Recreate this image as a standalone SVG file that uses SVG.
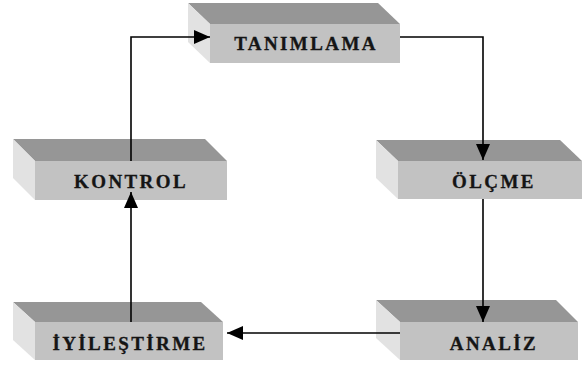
<svg xmlns="http://www.w3.org/2000/svg" width="582" height="367" viewBox="0 0 582 367">
  <defs>
    <style>
      .front { fill: #c2c2c2; }
      .top { fill: #969696; }
      .side { fill: #e2e2e2; }
      .label { font-family: "Liberation Serif", "Times New Roman", serif; font-weight: bold; font-size: 19px; letter-spacing: 2.4px; fill: #151515; stroke: #151515; stroke-width: 0.3; text-anchor: middle; }
      .wire { fill: none; stroke: #000; stroke-width: 1.6; }
    </style>
    <marker id="head" viewBox="0 0 16 14" refX="16" refY="7" markerWidth="16" markerHeight="14" markerUnits="userSpaceOnUse" orient="auto">
      <path d="M0,0 L16,7 L0,14 Z" fill="#000"/>
    </marker>
  </defs>

  <rect width="582" height="367" fill="#fff"/>

  <!-- TANIMLAMA -->
  <g id="tanimlama">
    <polygon class="top" points="188,3 378,3 400,24 210,24"/>
    <polygon class="side" points="188,3 210,24 210,63 188,42"/>
    <rect class="front" x="210" y="24" width="190" height="39"/>
    <text class="label" x="306" y="50">TANIMLAMA</text>
  </g>

  <!-- ÖLÇME -->
  <g id="olcme">
    <polygon class="top" points="376,140 560,140 582,161 398,161"/>
    <polygon class="side" points="376,140 398,161 398,199 376,178"/>
    <rect class="front" x="398" y="161" width="184" height="38"/>
    <text class="label" x="494" y="188">ÖLÇME</text>
  </g>

  <!-- ANALİZ -->
  <g id="analiz">
    <polygon class="top" points="376,300 556,300 578,322 400,322"/>
    <polygon class="side" points="376,300 400,322 400,360 376,338"/>
    <rect class="front" x="400" y="322" width="178" height="38"/>
    <text class="label" x="494" y="350">ANALİZ</text>
  </g>

  <!-- İYİLEŞTİRME -->
  <g id="iyilestirme">
    <polygon class="top" points="13,302 201,302 223,322 35,322"/>
    <polygon class="side" points="13,302 35,322 35,360 13,340"/>
    <rect class="front" x="35" y="322" width="188" height="38"/>
    <text class="label" x="130" y="350">İYİLEŞTİRME</text>
  </g>

  <!-- KONTROL -->
  <g id="kontrol">
    <polygon class="top" points="13,139 205,139 227,161 35,161"/>
    <polygon class="side" points="13,139 35,161 35,200 13,178"/>
    <rect class="front" x="35" y="161" width="192" height="39"/>
    <text class="label" x="131" y="188">KONTROL</text>
  </g>

  <!-- connectors -->
  <g id="connectors">
    <polyline class="wire" points="400,37 483,37 483,160" marker-end="url(#head)"/>
    <polyline class="wire" points="483,199 483,322" marker-end="url(#head)"/>
    <polyline class="wire" points="400,333 227,333" marker-end="url(#head)"/>
    <polyline class="wire" points="131,322 131,192" marker-end="url(#head)"/>
    <polyline class="wire" points="131,161 131,37 210,37" marker-end="url(#head)"/>
  </g>
</svg>
